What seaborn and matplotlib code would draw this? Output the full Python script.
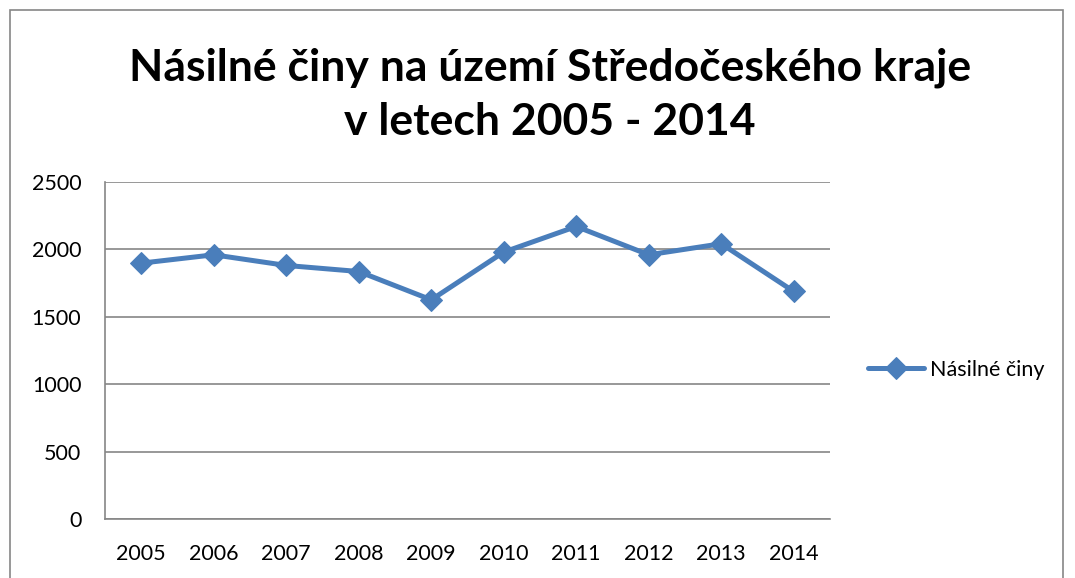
import matplotlib
matplotlib.use("Agg")
import matplotlib.pyplot as plt
import seaborn as sns
import pandas as pd
from matplotlib.patches import Rectangle
from matplotlib.ticker import FixedLocator, NullFormatter

years = ["2005", "2006", "2007", "2008", "2009", "2010", "2011", "2012", "2013", "2014"]
values = [1898, 1960, 1881, 1836, 1626, 1980, 2170, 1960, 2042, 1688]
series_name = "Násilné činy"
title_lines = ["Násilné činy na území Středočeského kraje", "v letech 2005 - 2014"]
y_ticks = [0, 500, 1000, 1500, 2000, 2500]

sns.set_style("white")
plt.rcParams['font.family'] = ['Lato', 'DejaVu Sans']
plt.rcParams['text.color'] = 'black'

df = pd.DataFrame({"pos": list(range(len(years))), "value": values, "series": series_name})

fig = plt.figure(figsize=(10.75, 5.78), dpi=100)
ax = fig.add_axes([105/1075, 1-519/578, (830-105)/1075, (519-182)/578])

color = "#4A7EBB"
sns.lineplot(data=df, x="pos", y="value", hue="series", palette=[color], marker="D",
             markersize=11.5, linewidth=3.6, markeredgecolor=color, ax=ax)

ax.set_xlim(-0.5, len(years) - 0.5)
ax.set_ylim(0, 2500)
ax.set_yticks(y_ticks)
ax.set_yticklabels([str(t) for t in y_ticks], fontsize=15.5, color="black")
ax.xaxis.set_major_locator(FixedLocator([i - 0.5 for i in range(len(years) + 1)]))
ax.xaxis.set_major_formatter(NullFormatter())
ax.xaxis.set_minor_locator(FixedLocator(list(range(len(years)))))
ax.set_xticklabels(years, minor=True, fontsize=15.5, color="black")
ax.tick_params(axis="x", which="major", length=7, width=1, color="#868686", direction="out")
ax.tick_params(axis="x", which="minor", length=0, pad=18)
ax.tick_params(axis="y", length=7, width=1, color="#868686", direction="out", pad=10)
ax.set_xlabel("")
ax.set_ylabel("")
ax.grid(axis="y", color="#868686", linewidth=1.2)
ax.set_axisbelow(True)
for s in ["top", "right"]:
    ax.spines[s].set_visible(False)
for s in ["left", "bottom"]:
    ax.spines[s].set_color("#868686")
    ax.spines[s].set_linewidth(1.2)

leg = ax.legend(loc="center left", bbox_to_anchor=(857/1075, 1-370/578), bbox_transform=fig.transFigure,
                frameon=False, fontsize=15.5, handlelength=2.6, handletextpad=0.3, borderpad=0)
for t in leg.get_texts():
    t.set_color("black")

fig.text(550/1075, 1-68/578, title_lines[0], ha="center", va="center", fontsize=32, fontweight="bold", color="black")
fig.text(550/1075, 1-122/578, title_lines[1], ha="center", va="center", fontsize=32, fontweight="bold", color="black")

fig.patches.append(Rectangle((10/1075, -0.1), (1063-10)/1075, (1-10/578) + 0.1,
                             transform=fig.transFigure, fill=False, edgecolor="#868686", linewidth=1.2))

fig.savefig("out.png", dpi=100)
